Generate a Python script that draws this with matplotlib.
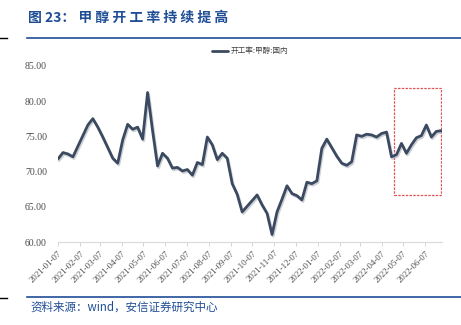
import matplotlib
matplotlib.use("Agg")
import matplotlib.pyplot as plt
import matplotlib.dates as mdates
import matplotlib.patheffects as pe
from matplotlib.patches import Rectangle
import numpy as np
import pandas as pd

plt.rcParams['font.family'] = ['Noto Sans CJK SC', 'DejaVu Sans']

# weekly methanol operating rate (%), from 2021-01-07
start_date = "2021-01-07"
rate = [71.8, 72.7, 72.5, 72.1, 73.6, 75.1, 76.6, 77.5, 76.3, 74.9,
        73.4, 71.9, 71.2, 74.5, 76.7, 76.0, 76.3, 74.6, 81.2, 75.8,
        70.8, 72.6, 71.9, 70.5, 70.6, 70.1, 70.3, 69.5, 71.3, 71.0,
        74.9, 73.8, 71.7, 72.6, 71.9, 68.3, 66.8, 64.3, 65.1, 65.9,
        66.7, 65.3, 64.1, 61.1, 64.3, 66.1, 68.0, 66.9, 66.6, 66.0,
        68.5, 68.3, 68.7, 73.3, 74.6, 73.4, 72.2, 71.2, 70.9, 71.4,
        75.2, 75.0, 75.3, 75.2, 74.9, 75.4, 75.6, 72.1, 72.4, 74.0,
        72.6, 73.8, 74.8, 75.1, 76.6, 74.9, 75.7, 75.8]
dates = pd.date_range(start_date, periods=len(rate), freq="7D")

tick_dates = pd.date_range("2021-01-01", "2022-06-01", freq="MS") + pd.Timedelta(days=6)
tick_labels = [d.strftime("%Y-%m-%d") for d in tick_dates]
yticks = [60, 65, 70, 75, 80, 85]

# highlighted window
box_start, box_end = pd.Timestamp("2022-04-24"), pd.Timestamp("2022-06-29")
box_low, box_high = 66.7, 81.9

line_color = "#3b4a60"
blue = "#1f4e96"
tick_color = "#4a4a4a"

fig = plt.figure(figsize=(4.61, 3.25), dpi=100)
ax = fig.add_axes([0.1258, 0.2545, 0.833, 0.5434])

ax.plot(dates, rate, color=line_color, lw=2.0, solid_joinstyle='round',
        solid_capstyle='round',
        path_effects=[pe.SimpleLineShadow(offset=(0.8, -1.2), shadow_color='#9aa3ad', alpha=0.5),
                      pe.Normal()])

x0 = mdates.date2num(box_start)
x1 = mdates.date2num(box_end)
ax.add_patch(Rectangle((x0, box_low), x1 - x0, box_high - box_low, fill=False,
                       edgecolor='#e05555', lw=0.9, linestyle=(0, (2, 1))))

ax.set_ylim(60, 85)
ax.set_yticks(yticks)
ax.set_yticklabels([f"{v:.2f}" for v in yticks])
ax.set_xticks(tick_dates)
ax.set_xticklabels(tick_labels, rotation=45, ha='right', rotation_mode='anchor')
for lbl in ax.get_yticklabels():
    lbl.set_fontfamily('Liberation Serif')
    lbl.set_fontsize(7)
    lbl.set_color(tick_color)
for lbl in ax.get_xticklabels():
    lbl.set_fontfamily('Liberation Serif')
    lbl.set_fontsize(6.3)
    lbl.set_color(tick_color)
ax.tick_params(axis='y', length=0, pad=8)
ax.tick_params(axis='x', length=3, color='#d0d0d0', width=0.6, pad=2)
for s in ['left', 'right', 'top']:
    ax.spines[s].set_visible(False)
ax.spines['bottom'].set_color('#d9d9d9')
ax.spines['bottom'].set_linewidth(0.8)
ax.set_xlim(dates[0], dates[-1] + pd.Timedelta(days=1))

# legend
leg = ax.legend([ax.lines[0]], ["开工率:甲醇:国内"], loc='lower center',
                bbox_to_anchor=(0.5, 1.02), frameon=False, fontsize=5.5,
                handlelength=2.2, handletextpad=0.3, labelcolor='#404040')
leg.legend_handles[0].set_path_effects([])

# title and frame lines
fig.text(28 / 461, 1 - 18 / 325, "图 23： 甲 醇 开 工 率 持 续 提 高", color=blue,
         fontsize=10, weight='bold', va='center', ha='left')
fig.add_artist(plt.Line2D([27 / 461, 1], [1 - 38.3 / 325] * 2, color=blue, lw=1.2))
fig.add_artist(plt.Line2D([0, 7 / 461], [1 - 38.3 / 325] * 2, color='black', lw=1.0))
fig.add_artist(plt.Line2D([27 / 461, 1], [1 - 296.7 / 325] * 2, color=blue, lw=1.2))
fig.add_artist(plt.Line2D([0, 7 / 461], [1 - 297.5 / 325] * 2, color='black', lw=1.0))
fig.text(30 / 461, 1 - 307 / 325, "资料来源：wind，安信证券研究中心", color=blue,
         fontsize=8.3, style='italic', va='center', ha='left')

fig.savefig("out.png", dpi=100)
